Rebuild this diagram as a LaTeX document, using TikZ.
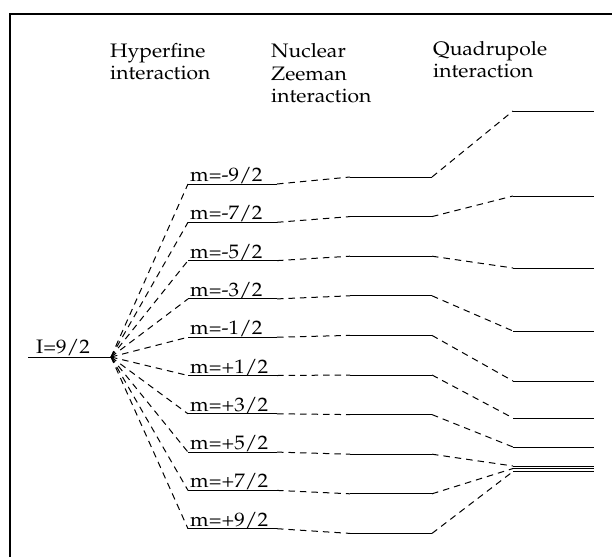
\documentclass[tikz,border=0pt]{standalone}
\usepackage[T1]{fontenc}
\usepackage{mathpazo}
\usetikzlibrary{calc}
\newcommand{\widetext}[1]{\scalebox{1.08}[1]{#1}}
\begin{document}
\begin{tikzpicture}[x=1pt,y=-1pt,
  lvl/.style={line width=1pt},
  conn/.style={line width=1pt, dash pattern=on 6.5pt off 5pt},
  lab/.style={font=\fontsize{19.5}{23}\selectfont, inner sep=0pt}]
\useasboundingbox (0,0) rectangle (615,557);
% frame edges
\draw[line width=2.2pt] (10,557) -- (10,14) -- (612,14);

% column headings
\node[lab, anchor=base west] (h1a) at (110,57) {\widetext{Hyperfine}};
\node[lab, anchor=base west] (h1b) at (110,79) {\widetext{interaction}};
\node[lab, anchor=base west] (h2a) at (271,57) {\widetext{Nuclear}};
\node[lab, anchor=base west] (h2b) at (271,80) {\widetext{Zeeman}};
\node[lab, anchor=base west] (h2c) at (271,102) {\widetext{interaction}};
\node[lab, anchor=base west] (h3a) at (433,55) {\widetext{Quadrupole}};
\node[lab, anchor=base west] (h3b) at (433,77) {\widetext{interaction}};

% unsplit level
\coordinate (I0) at (28,357);
\coordinate (Ic) at (111,357);
\draw[lvl] (I0) -- (Ic);
\node[lab, anchor=base west] (Ilab) at (36,353) {\widetext{I=9/2}};

% split levels: index / m numerator / quadrupole level height
\foreach \k/\m/\q in {0/-9/111, 1/-7/196, 2/-5/268, 3/-3/331, 4/-1/381,
                      5/+1/418, 6/+3/447, 7/+5/466, 8/+7/468.5, 9/+9/471.5} {
  \pgfmathsetmacro\hy{184+38.3*\k}
  \pgfmathsetmacro\zy{177+39.6*\k}
  \coordinate (hL\k) at (188,\hy);
  \coordinate (hR\k) at (277,\hy);
  \coordinate (zL\k) at (350,\zy);
  \coordinate (zR\k) at (432,\zy);
  \coordinate (qL\k) at (513,\q);
  \coordinate (qR\k) at (594,\q);
  \draw[lvl] (hL\k) -- (hR\k);
  \draw[lvl] (zL\k) -- (zR\k);
  \draw[lvl] (qL\k) -- (qR\k);
  \draw[conn] (Ic) -- (hL\k);
  \draw[conn] (hR\k) -- (zL\k);
  \draw[conn] (zR\k) -- (qL\k);
  \node[lab, anchor=base west] (m\k) at ($(hL\k)+(2,-2.5)$) {\widetext{m=\m/2}};
}
\end{tikzpicture}
\end{document}
